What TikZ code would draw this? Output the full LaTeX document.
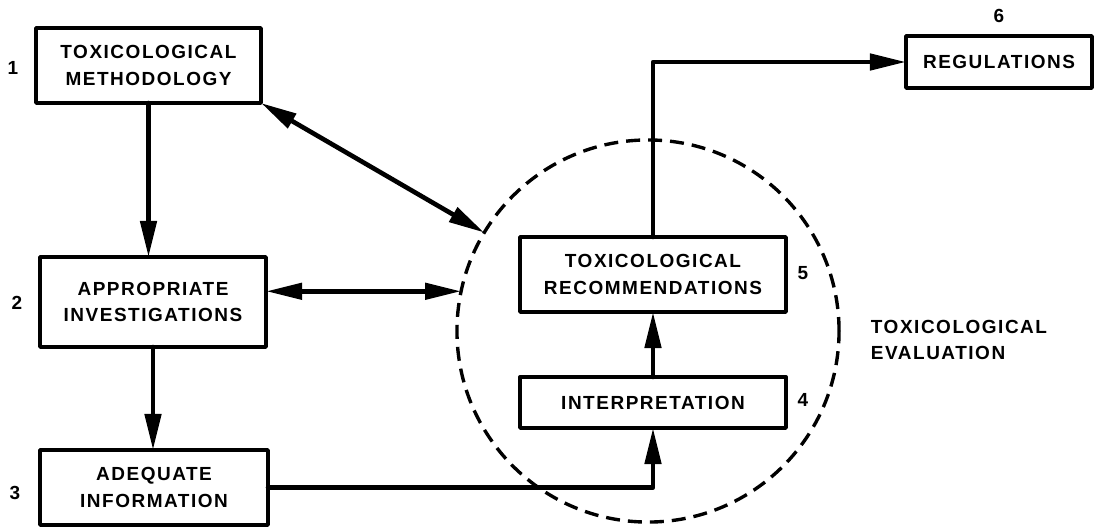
\documentclass[tikz,border=0pt]{standalone}
\usepackage{fontspec}
\setmainfont{Liberation Sans}[LetterSpace=8]
\usetikzlibrary{arrows.meta}

\begin{document}
\begin{tikzpicture}[x=0.025cm,y=-0.025cm,line cap=round,line join=round,
  stage/.style={draw,line width=2.4pt,inner sep=0pt,outer sep=0pt,align=center,
    font=\bfseries\fontsize{13.5}{19}\selectfont},
  tag/.style={font=\bfseries\fontsize{13.5}{19}\selectfont},
  flow/.style={line width=3.3pt,-{Triangle[length=0.9cm,width=0.4cm]}},
  twoway/.style={line width=3.3pt,
    {Triangle[length=0.9cm,width=0.4cm]}-{Triangle[length=0.9cm,width=0.4cm]}}]
\useasboundingbox (0,0) rectangle (1095,526);

% left column
\node[stage,minimum width=5.625cm,minimum height=1.875cm] (meth) at (148.5,65.5)
  {TOXICOLOGICAL\\METHODOLOGY};
\node[stage,minimum width=5.65cm,minimum height=2.25cm] (inv) at (153,302)
  {APPROPRIATE\\INVESTIGATIONS};
\node[stage,minimum width=5.7cm,minimum height=1.875cm] (info) at (154,487.5)
  {ADEQUATE\\INFORMATION};

% evaluation circle
\node[draw,circle,dashed,line cap=butt,line width=2.4pt,dash pattern=on 0.35cm off 0.2cm,
  minimum size=9.55cm,inner sep=0pt,outer sep=0pt] (evalc) at (648,331) {};
\node[stage,minimum width=6.65cm,minimum height=1.275cm] (interp) at (653,402.5)
  {INTERPRETATION};
\node[stage,minimum width=6.65cm,minimum height=1.875cm] (recom) at (653,274.5)
  {TOXICOLOGICAL\\RECOMMENDATIONS};
\node[stage,minimum width=4.65cm,minimum height=1.3cm] (reg) at (999,62)
  {REGULATIONS};

% numbers
\node[tag] (n1) at (13,68) {1};
\node[tag] (n2) at (17,303) {2};
\node[tag] (n3) at (15,493) {3};
\node[tag] (n4) at (803,400) {4};
\node[tag] (n5) at (803,273) {5};
\node[tag] (n6) at (999,16) {6};
\node[tag,anchor=west,align=left] (evtext) at (866,340)
  {TOXICOLOGICAL\\EVALUATION};

% connectors
\draw[flow] (meth.south) -- (meth.south |- inv.north);
\draw[flow] (inv.south) -- (inv.south |- info.north);
\draw[twoway] (meth.south east) -- (evalc.149.8);
\draw[twoway] (evalc.168.2 -| inv.east) -- (evalc.168.2);
\draw[flow] (info.east) -| (interp.south);
\draw[flow] (interp.north) -- (recom.south);
\draw[flow] (recom.north) |- (reg.west);
\end{tikzpicture}
\end{document}
